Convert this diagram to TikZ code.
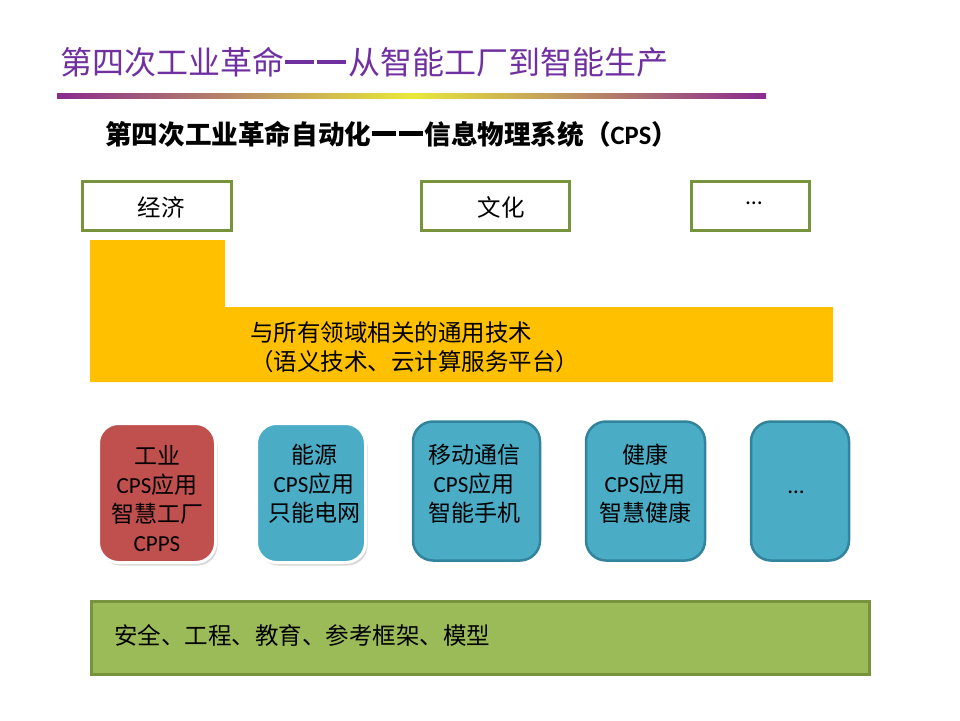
\documentclass[tikz,border=0pt]{standalone}
\usepackage{fontspec}
\setmainfont{Noto Sans CJK SC}
\newfontfamily\latin{Carlito}
\usetikzlibrary{shadows}
\definecolor{titlepurple}{HTML}{7030A0}
\definecolor{grnborder}{HTML}{77933C}
\definecolor{grnfill}{HTML}{9BBB59}
\definecolor{gold}{HTML}{FFC000}
\definecolor{redfill}{HTML}{C0504D}
\definecolor{tealfill}{HTML}{4BACC6}
\definecolor{tealborder}{HTML}{31849B}
\definecolor{barpurple}{HTML}{8A2B90}
\definecolor{baryellow}{HTML}{E8E83A}
\newcommand\mydash[1][0.12em]{\hspace{0.04em}\rule[0.32em]{0.9em}{#1}\hspace{0.06em}}
\begin{document}
\begin{tikzpicture}[x=1pt,y=-1pt,
  topbox/.style={draw=grnborder, line width=3pt, fill=white, inner sep=0pt},
  appbox/.style={rounded corners=20pt, inner sep=0pt},
  hibox/.style={appbox, draw=white, line width=3pt,
    drop shadow={opacity=0.3, shadow xshift=2pt, shadow yshift=-3pt}},
  plainbox/.style={appbox, fill=tealfill, draw=tealborder, line width=2.5pt},
  boxtext/.style={inner sep=0pt, align=center, font=\fontsize{23}{29}\selectfont},
  plaintext/.style={inner sep=0pt, font=\fontsize{23.5}{29}\selectfont},
]
\useasboundingbox (0,0) rectangle (960,720);
\fill[white] (0,0) rectangle (960,720);

% title and bar
\node[anchor=west, inner sep=0pt, text=titlepurple, font=\fontsize{32}{36}\selectfont] (title) at (60,62) {第四次工业革命\mydash\mydash 从智能工厂到智能生产};
\shade[left color=barpurple, right color=barpurple, middle color=baryellow] (57,93) rectangle (766,98);

% subtitle
\node[anchor=west, inner sep=0pt, font=\fontsize{26.6}{30}\selectfont\bfseries] (subtitle) at (105,134) {第四次工业革命自动化\mydash[0.17em]\mydash[0.17em]信息物理系统（{\latin\bfseries CPS}）};

% top boxes
\node[topbox, minimum width=149pt, minimum height=49pt] (econ) at (157,206) {};
\node[plaintext] (econt) at (161,207) {经济};
\node[topbox, minimum width=148pt, minimum height=49pt] (cult) at (495.5,206) {};
\node[plaintext] (cultt) at (501,207) {文化};
\node[topbox, minimum width=118pt, minimum height=49pt] (more) at (750.5,206) {};
\node[plaintext] (moret) at (754,203) {{\latin …}};

% yellow L-shaped band
\fill[gold] (90,240) -- (225,240) -- (225,307) -- (833,307) -- (833,382) -- (90,382) -- cycle;
\node[plaintext, anchor=west, align=left] (gentech) at (250,347) {与所有领域相关的通用技术\\（语义技术、云计算服务平台）};

% application boxes
\node[hibox, fill=redfill, minimum width=117pt, minimum height=139pt] (b1) at (157,493) {};
\node[boxtext] (t1) at (157,499) {工业\\{\latin CPS}应用\\智慧工厂\\{\latin CPPS}};
\node[hibox, fill=tealfill, minimum width=109pt, minimum height=139pt] (b2) at (311,493) {};
\node[boxtext] (t2) at (314,484) {能源\\{\latin CPS}应用\\只能电网};
\node[plainbox, minimum width=127pt, minimum height=139pt] (b3) at (476.5,491) {};
\node[boxtext] (t3) at (474,484) {移动通信\\{\latin CPS}应用\\智能手机};
\node[plainbox, minimum width=119pt, minimum height=139pt] (b4) at (645.5,491) {};
\node[boxtext] (t4) at (645,484) {健康\\{\latin CPS}应用\\智慧健康};
\node[plainbox, minimum width=98pt, minimum height=139pt] (b5) at (800,491) {};
\node[boxtext] (t5) at (796,492) {{\latin …}};

% bottom green box
\node[draw=grnborder, fill=grnfill, line width=3pt, inner sep=0pt, minimum width=778pt, minimum height=73pt] (base) at (480.5,638) {};
\node[plaintext, anchor=west] (baset) at (114,635) {安全、工程、教育、参考框架、模型};
\end{tikzpicture}
\end{document}
